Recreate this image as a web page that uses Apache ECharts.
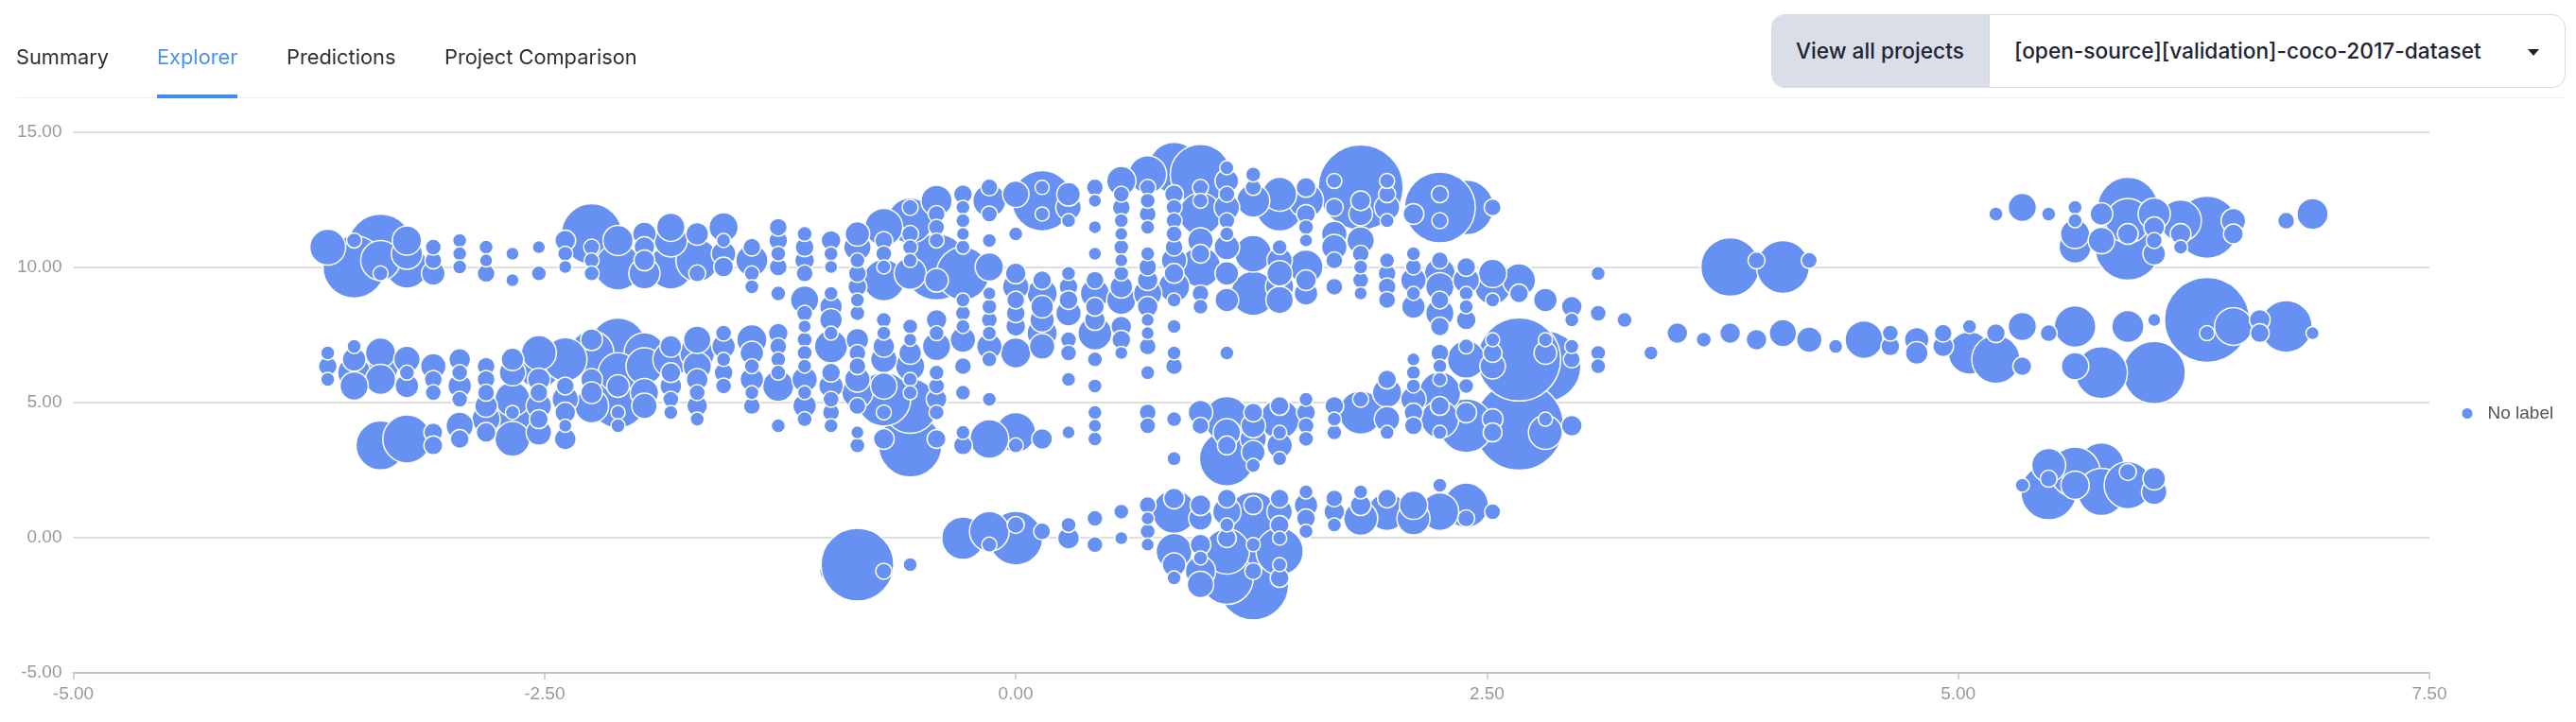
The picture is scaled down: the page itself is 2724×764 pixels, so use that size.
<!DOCTYPE html>
<html>
<head>
<meta charset="utf-8">
<script src="https://cdn.jsdelivr.net/npm/echarts@6/dist/echarts.min.js"></script>
<style>
html,body{margin:0;padding:0;background:#fff;width:2724px;height:764px;overflow:hidden}
#chart{position:absolute;left:0;top:0;width:2724px;height:764px}
.tab{position:absolute;top:45px;font:400 21.8px/30px Inter,sans-serif;color:#2b2f36;white-space:nowrap}
.tab.on{color:#4a90f0}
#rule{position:absolute;left:17px;top:103px;width:2695px;height:1px;background:#eeeff1}
#under{position:absolute;left:166px;top:100px;width:85px;height:4px;background:#3f8cf3}
#box{position:absolute;left:1873px;top:15px;width:838px;height:76px;border:1px solid #d8dbe2;border-radius:14px;overflow:hidden;background:#fff}
#lead{position:absolute;left:0;top:0;width:229px;height:76px;background:#dadee9;border-right:1px solid #d3d6de}
.sel{position:absolute;top:23px;font:500 22.7px/30px Inter,sans-serif;color:#1e2433;white-space:nowrap}
#caret{position:absolute;left:2673px;top:52px;width:0;height:0;border-left:6px solid transparent;border-right:6px solid transparent;border-top:7px solid #222}
</style>
</head>
<body>
<div id="chart"></div>
<div class="tab" style="left:17px">Summary</div>
<div class="tab on" style="left:166px">Explorer</div>
<div class="tab" style="left:303px">Predictions</div>
<div class="tab" style="left:470px">Project Comparison</div>
<div id="rule"></div><div id="under"></div>
<div id="box"><div id="lead"></div>
<div class="sel" style="left:25px">View all projects</div>
<div class="sel" style="left:256px">[open-source][validation]-coco-2017-dataset</div></div>
<div id="caret"></div>
<script>
const seriesName = 'No label';
const xTicks = {min: -5, max: 7.5, interval: 2.5};
const yTicks = {min: -5, max: 15, interval: 5};
const xColumns = [-3.65,-3.51,-3.37,-3.23,-3.09,-2.95,-2.81,-2.67,-2.53,-2.39,-2.25,-2.11,-1.97,-1.83,-1.69,-1.55,-1.40,-1.26,-1.12,-0.98,-0.84,-0.70,-0.56,-0.42,-0.28,-0.14,0.00,0.14,0.28,0.42,0.56,0.70,0.84,0.98,1.12,1.26,1.40,1.54,1.69,1.83,1.97,2.11,2.25,2.39,2.53,2.67,2.81,2.95,3.09,3.23,3.37,3.51,3.65,3.79,3.93,4.07,4.21,4.35,4.50,4.64,4.78,4.92,5.06,5.20,5.34,5.48,5.62,5.76,5.90,6.04,6.18,6.32,6.46,6.60,6.74,6.88];
// one row per x column: [y, bubble size] pairs
const columnBubbles = [
[[10.74,38],[6.83,15],[6.34,20],[5.85,15]],
[[10.99,16],[10.01,66],[7.07,15],[6.59,25],[6.10,35],[5.61,30]],
[[10.74,70],[10.25,42],[9.77,16],[6.83,32],[6.34,38],[5.85,32],[3.41,52]],
[[10.99,31],[10.50,33],[10.01,45],[6.59,28],[6.10,16],[5.61,25],[3.65,51]],
[[10.74,17],[10.25,18],[9.77,25],[6.34,27],[5.85,19],[5.36,17],[3.89,20],[3.41,20]],
[[10.99,15],[10.50,15],[10.01,15],[6.59,23],[6.10,17],[5.61,25],[5.12,17],[4.14,29],[3.65,20]],
[[10.74,15],[10.25,14],[9.77,19],[6.34,19],[5.85,19],[5.36,18],[4.87,24],[4.38,30],[3.89,21]],
[[10.50,14],[9.52,14],[6.59,24],[6.10,28],[5.12,37],[4.63,15],[4.14,48],[3.65,37]],
[[10.74,14],[9.77,16],[6.83,37],[6.34,47],[5.85,24],[5.36,19],[4.87,27],[4.38,20],[3.89,27]],
[[10.99,22],[10.50,16],[10.01,14],[6.59,46],[5.61,19],[5.12,28],[4.63,22],[4.14,14],[3.65,23]],
[[11.23,64],[10.74,17],[10.25,16],[9.77,16],[7.32,23],[6.83,47],[5.85,23],[5.36,23],[4.87,36]],
[[10.99,32],[10.01,49],[7.07,60],[6.10,42],[5.61,24],[5.12,61],[4.63,15],[4.14,15]],
[[11.23,25],[10.74,22],[10.25,22],[9.77,33],[6.83,43],[6.34,39],[5.36,30],[4.87,27]],
[[11.48,30],[10.99,35],[10.01,47],[7.07,23],[6.59,38],[6.10,21],[5.61,23],[5.12,17],[4.63,15]],
[[11.23,24],[10.25,45],[9.77,18],[7.32,29],[6.83,37],[6.34,30],[5.85,23],[5.36,17],[4.87,22],[4.38,15]],
[[11.48,31],[10.99,15],[10.50,26],[10.01,21],[7.56,17],[7.07,25],[6.59,15],[6.10,20],[5.61,17]],
[[10.74,19],[10.25,34],[9.77,16],[9.28,15],[7.32,32],[6.83,25],[6.34,16],[5.85,25],[5.36,15],[4.87,18]],
[[11.48,19],[10.99,20],[10.50,16],[10.01,19],[9.03,16],[7.56,21],[7.07,18],[6.59,16],[6.10,16],[5.61,33],[4.14,15]],
[[11.23,16],[10.74,20],[10.25,21],[9.77,18],[8.79,30],[8.30,17],[7.81,14],[7.32,16],[6.83,16],[6.34,15],[5.85,27],[5.36,15],[4.87,25],[4.38,16]],
[[10.99,21],[10.50,15],[10.01,14],[9.03,15],[8.54,24],[8.05,24],[7.56,15],[7.07,35],[6.10,20],[5.61,26],[5.12,17],[4.63,18],[4.14,15],[-1.24,24]],
[[11.23,26],[10.74,29],[10.25,16],[9.77,19],[9.28,20],[8.79,15],[8.30,16],[7.32,24],[6.83,18],[6.34,18],[5.85,27],[5.36,33],[4.87,18],[3.89,14],[3.41,16],[-1.00,77]],
[[11.48,40],[10.99,19],[10.50,17],[10.01,15],[9.52,44],[8.05,16],[7.56,15],[7.07,23],[6.59,28],[5.61,28],[5.12,57],[4.63,16],[3.65,22],[-1.24,17]],
[[12.21,17],[11.72,48],[11.23,18],[10.74,16],[10.25,15],[9.77,34],[7.81,16],[7.32,14],[6.83,24],[6.34,31],[5.85,15],[5.36,15],[4.87,58],[3.41,67],[-1.00,15]],
[[12.46,33],[11.97,18],[11.48,17],[10.99,16],[10.01,70],[9.52,25],[8.05,22],[7.56,16],[7.07,30],[6.10,16],[5.61,17],[5.12,22],[4.63,16],[3.65,20]],
[[12.70,20],[12.21,15],[11.72,15],[11.23,14],[10.74,15],[9.77,56],[8.79,15],[8.30,16],[7.81,15],[7.32,27],[6.34,18],[5.36,16],[3.89,15],[3.41,20],[-0.02,45]],
[[12.95,18],[12.46,35],[11.97,17],[10.99,15],[10.01,30],[9.03,14],[8.54,16],[8.05,17],[7.56,15],[7.07,27],[6.59,16],[5.12,15],[3.65,41],[0.23,42],[-0.26,16]],
[[12.70,28],[11.23,15],[9.77,22],[9.28,28],[8.79,19],[8.30,20],[7.81,21],[6.83,32],[3.89,42],[3.41,16],[0.47,18],[-0.02,57]],
[[12.95,15],[12.46,64],[11.97,15],[9.52,20],[9.03,32],[8.54,24],[8.05,26],[7.56,32],[7.07,27],[3.65,22],[0.23,18]],
[[12.70,25],[12.21,27],[11.72,15],[9.77,15],[9.28,20],[8.79,20],[8.30,27],[7.32,17],[6.83,17],[5.85,15],[3.89,14],[0.47,16],[-0.02,23]],
[[12.95,18],[12.46,14],[11.48,14],[10.50,14],[9.52,19],[9.03,31],[8.54,20],[8.05,22],[7.56,36],[6.59,16],[5.61,15],[4.63,15],[4.14,14],[3.65,15],[0.71,17],[-0.26,17]],
[[13.19,31],[12.70,17],[12.21,19],[11.72,15],[11.23,14],[10.74,16],[10.25,14],[9.77,16],[9.28,24],[8.79,31],[7.81,22],[7.32,20],[6.83,14],[0.96,16],[-0.02,14]],
[[13.43,40],[12.95,17],[12.46,16],[11.97,18],[11.48,15],[10.50,15],[10.01,19],[9.52,22],[9.03,30],[8.54,22],[8.05,14],[7.56,14],[7.07,18],[6.10,15],[4.63,18],[4.14,17],[1.20,18],[0.71,14],[0.23,16],[-0.26,14]],
[[13.68,54],[12.70,20],[12.21,17],[11.72,17],[11.23,17],[10.74,19],[10.25,27],[9.77,21],[9.28,33],[8.79,15],[7.81,15],[6.83,15],[6.34,18],[4.38,16],[2.92,15],[1.45,22],[0.96,46],[-0.51,38],[-1.00,25],[-1.49,15]],
[[13.43,64],[12.95,17],[12.46,16],[11.97,45],[10.99,27],[10.50,20],[10.01,43],[9.03,18],[8.54,16],[4.63,26],[4.14,18],[1.20,22],[0.71,25],[-0.26,22],[-0.75,15],[-1.24,32],[-1.73,28]],
[[13.68,15],[13.19,25],[12.70,17],[12.21,27],[11.72,17],[11.23,15],[10.74,27],[9.77,25],[8.79,25],[6.83,15],[4.38,48],[3.89,29],[3.41,20],[2.92,58],[1.45,20],[0.96,30],[0.47,15],[-0.02,20],[-0.51,48],[-1.49,56]],
[[13.43,16],[12.95,17],[12.46,35],[10.50,39],[9.03,47],[4.63,20],[4.14,26],[3.65,28],[3.16,25],[2.67,15],[1.20,20],[0.71,56],[-0.26,15],[-1.24,18],[-1.73,75]],
[[12.70,36],[12.21,50],[10.74,16],[10.25,27],[9.77,27],[9.28,30],[8.79,29],[4.87,20],[4.38,42],[3.89,15],[3.41,27],[2.92,15],[1.45,20],[0.96,27],[0.47,20],[-0.02,15],[-0.51,50],[-1.00,15],[-1.49,20]],
[[12.95,21],[12.46,37],[11.97,20],[11.48,16],[10.99,14],[10.01,36],[9.52,22],[9.03,25],[5.12,15],[4.63,20],[4.14,17],[3.65,16],[1.69,15],[1.20,25],[0.71,20],[0.23,15]],
[[13.19,16],[12.21,19],[11.23,27],[10.74,27],[10.25,18],[9.28,18],[4.87,20],[4.38,15],[3.89,16],[1.45,18],[0.96,22],[0.47,15]],
[[12.95,90],[12.46,21],[11.97,25],[10.99,29],[10.50,18],[10.01,15],[9.52,17],[9.03,14],[5.12,17],[4.63,46],[1.69,15],[1.20,22],[0.71,36]],
[[13.19,16],[12.70,18],[12.21,27],[11.72,15],[10.25,16],[9.77,19],[9.28,19],[8.79,18],[5.85,20],[5.36,31],[4.38,27],[3.89,15],[1.45,20],[0.96,40]],
[[11.97,22],[10.50,15],[10.01,17],[9.52,27],[9.03,15],[8.54,25],[6.59,14],[6.10,15],[5.61,15],[5.12,27],[4.63,20],[4.14,19],[1.20,30],[0.71,35]],
[[12.70,18],[12.21,75],[11.72,17],[10.25,18],[9.77,33],[9.28,30],[8.79,19],[8.30,30],[7.81,20],[6.83,19],[6.34,15],[5.85,15],[5.36,44],[4.87,20],[4.38,40],[3.89,15],[1.94,15],[0.96,40]],
[[12.21,58],[10.01,20],[9.52,28],[9.03,15],[8.54,15],[8.05,21],[7.07,16],[6.59,40],[5.61,16],[4.63,22],[4.14,57],[1.20,47],[0.71,18]],
[[12.21,18],[9.77,30],[9.28,38],[8.79,15],[7.32,15],[6.83,20],[6.34,27],[4.38,22],[3.89,20],[0.96,17]],
[[9.52,35],[9.03,20],[6.59,88],[4.14,94]],
[[8.79,25],[7.32,15],[6.83,24],[6.34,75],[4.38,15],[3.89,36]],
[[8.54,22],[8.05,15],[7.07,15],[6.59,18],[4.14,22]],
[[9.77,15],[8.30,17],[6.83,16],[6.34,16]],
[[8.05,16]],
[[6.83,15]],
[[7.56,22]],
[[7.32,16]],
[[10.01,62],[7.56,22]],
[[10.25,18],[7.32,22]],
[[10.01,56],[7.56,29]],
[[10.25,17],[7.32,27]],
[[7.07,15]],
[[7.32,40]],
[[7.56,17],[7.07,20]],
[[7.32,26],[6.83,24]],
[[7.56,19],[7.07,22]],
[[7.81,15],[6.83,45]],
[[11.97,15],[7.56,20],[6.59,51]],
[[12.21,30],[7.81,30],[6.34,20],[1.94,15]],
[[11.97,15],[7.56,18],[2.67,36],[2.18,18],[1.69,59]],
[[12.21,15],[11.72,15],[11.23,31],[10.74,34],[7.81,44],[6.34,29],[2.43,53],[1.94,30]],
[[11.97,24],[10.99,28],[6.10,55],[2.67,48],[1.69,50]],
[[12.21,64],[11.72,47],[11.23,22],[10.74,70],[7.81,34],[2.43,18],[1.94,50]],
[[11.97,34],[11.48,22],[10.99,17],[10.50,24],[8.05,14],[6.10,66],[2.18,24],[1.69,27]],
[[11.72,44],[11.23,22],[10.74,15]],
[[11.48,66],[8.05,90],[7.56,16]],
[[11.72,26],[11.23,21],[7.81,40]],
[[8.05,22],[7.56,20]],
[[11.72,18],[7.81,55]],
[[11.97,33],[7.56,14]]
];
// bubbles the reference paints beneath their larger neighbours: [x, y]
const drawnBehind = [[2.81,6.34],[0.84,13.68],[2.39,12.21],[5.76,2.67],[5.06,6.83],[-0.98,-1.24]];

const points = [];
columnBubbles.forEach((col, i) => col.forEach(p => points.push([xColumns[i], p[0], p[1]])));
const isBehind = p => drawnBehind.some(b => b[0] === p[0] && b[1] === p[1]);
points.sort((a, b) => (isBehind(b) - isBehind(a)) || (b[2] - a[2]));

const BLUE = '#6690f2';
const chart = echarts.init(document.getElementById('chart'), null, {renderer: 'canvas'});
const labelFont = {color: '#999', fontFamily: 'Liberation Sans, Arial, sans-serif', fontSize: 19};
chart.setOption({
  animation: false,
  grid: {left: 77.5, right: 155, top: 139.7, bottom: 52},
  legend: {
    show: true, orient: 'vertical', left: 2596.5, top: 423, icon: 'circle',
    itemWidth: 13, itemHeight: 13, itemGap: 8,
    textStyle: {color: '#555', fontFamily: 'Liberation Sans, Arial, sans-serif', fontSize: 19, padding: [0,0,0,10]},
    data: [seriesName]
  },
  xAxis: {
    type: 'value', min: xTicks.min, max: xTicks.max, interval: xTicks.interval,
    splitLine: {show: false},
    axisLine: {show: true, onZero: false, lineStyle: {color: '#c4c4c4', width: 2}},
    axisTick: {show: true, length: 7, lineStyle: {color: '#c4c4c4', width: 1.5}},
    axisLabel: {...labelFont, margin: 13, formatter: v => v.toFixed(2)}
  },
  yAxis: {
    type: 'value', min: yTicks.min, max: yTicks.max, interval: yTicks.interval,
    splitLine: {show: true, lineStyle: {color: '#dedede', width: 2}},
    axisLine: {show: false}, axisTick: {show: false},
    axisLabel: {...labelFont, margin: 12, formatter: v => v.toFixed(2)}
  },
  series: [{
    name: seriesName, type: 'scatter', data: points,
    symbol: 'circle', symbolSize: v => v[2],
    itemStyle: {color: BLUE, opacity: 1, borderColor: '#fff', borderWidth: 1.5}
  }]
});
</script>
</body>
</html>
